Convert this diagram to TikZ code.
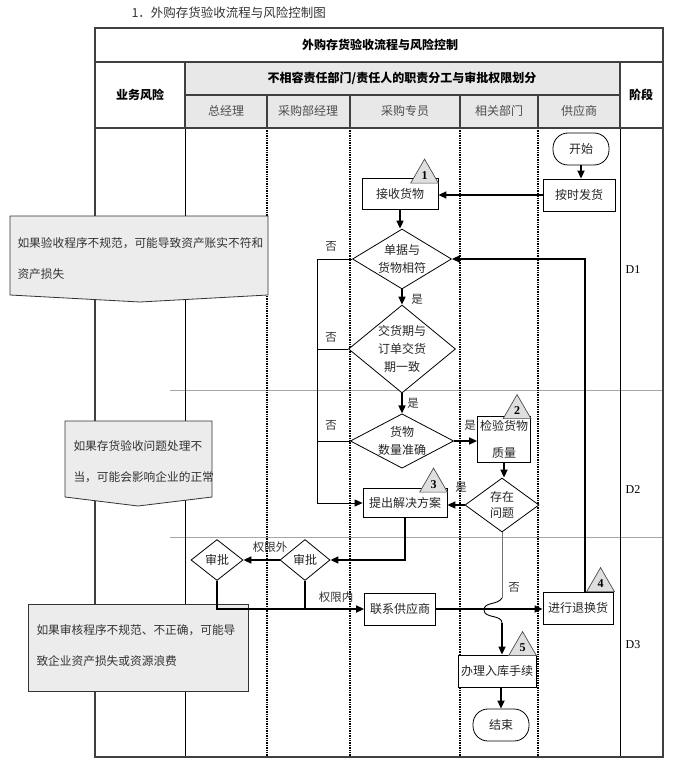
\documentclass[tikz,border=0pt]{standalone}
\usepackage{fontspec}
\setmainfont{Noto Sans CJK SC}
\newfontfamily\lat{Liberation Serif}
\usetikzlibrary{arrows.meta,shapes.geometric}
\tikzset{
  lane/.style={line width=2.6pt, dash pattern=on 1.4pt off 1pt},
  grid/.style={line width=1.3pt, draw=black!75},
  thinrule/.style={line width=0.6pt, draw=black!35},
  procbox/.style={draw, line width=0.8pt, fill=white, rectangle, minimum height=32pt, inner sep=1pt, font=\fontsize{12}{27}\selectfont, text=black!85, align=center},
  decision/.style={draw, line width=0.8pt, fill=white, diamond, inner sep=0pt, font=\fontsize{12}{18}\selectfont, text=black!85, align=center},
  terminal/.style={draw, line width=0.8pt, fill=white, rounded corners=15pt, minimum width=56pt, minimum height=32pt, font=\fontsize{12}{14}\selectfont, text=black!85},
  flag/.style={regular polygon, regular polygon sides=3, draw=black!70, line width=0.7pt, fill=gray!25, minimum size=32pt, inner sep=0pt, outer sep=0pt, font=\lat\bfseries\fontsize{12}{12}\selectfont},
  riskbox/.style={draw=black!80, line width=0.8pt, fill=gray!15},
  risktext/.style={align=left, anchor=west, text=black!80, font=\fontsize{11.7}{31}\selectfont},
  flow/.style={line width=1.6pt, -{Triangle[length=8pt,width=7pt]}},
  link/.style={line width=1.6pt},
  noline/.style={line width=1pt},
  noflow/.style={line width=1pt, -{Triangle[length=8pt,width=7pt]}},
  lbl/.style={font=\fontsize{11.5}{12}\selectfont, text=black!80},
  head/.style={font=\bfseries\fontsize{12}{14}\selectfont},
  lanehead/.style={font=\fontsize{12}{14}\selectfont, text=black!70}
}
\begin{document}
\begin{tikzpicture}[x=1pt,y=-1pt]
\useasboundingbox (0,0) rectangle (675,770);
\node[anchor=west, font=\fontsize{12.5}{14}\selectfont, text=black!80] (title) at (128,13) {1．外购存货验收流程与风险控制图};

\fill[gray!18] (185,62) rectangle (620,128);
\draw[thinrule] (170,390) -- (663,390);
\draw[thinrule] (170,537) -- (663,537);
\draw[line width=0.7pt] (185,128) -- (185,757);
\draw[line width=0.7pt] (620,128) -- (620,757);
\foreach \x in {267,350,460,538} \draw[lane] (\x,128) -- (\x,757);
\draw[grid] (95,28) rectangle (663,757);
\draw[grid] (95,62) -- (663,62);
\draw[grid] (185,62) -- (185,128);
\draw[grid] (620,62) -- (620,128);
\draw[grid] (185,95) -- (620,95);
\draw[grid] (95,128) -- (663,128);
\foreach \x in {267,350,460,538} \draw[grid] (\x,95) -- (\x,128);

\node[head] (h0) at (380,45) {外购存货验收流程与风险控制};
\node[head] (h1) at (402,78) {不相容责任部门/责任人的职责分工与审批权限划分};
\node[head] (h2) at (140,95) {业务风险};
\node[head] (h3) at (641,95) {阶段};
\node[lanehead] (l1) at (226,111) {总经理};
\node[lanehead] (l2) at (308,111) {采购部经理};
\node[lanehead] (l3) at (405,111) {采购专员};
\node[lanehead] (l4) at (499,111) {相关部门};
\node[lanehead] (l5) at (579,111) {供应商};
\node[font=\lat\fontsize{12}{12}\selectfont] (s1) at (633,270) {D1};
\node[font=\lat\fontsize{12}{12}\selectfont] (s2) at (633,490) {D2};
\node[font=\lat\fontsize{12}{12}\selectfont] (s3) at (633,645) {D3};

\filldraw[riskbox] (10,216) -- (268,216) -- (268,295) -- (140,302) -- (10,295) -- cycle;
\node[risktext] (risk1) at (14,259) {如果验收程序不规范，可能导致资产账实不符和\\资产损失};
\filldraw[riskbox] (65,421) -- (212,421) -- (212,497) -- (138,506) -- (65,497) -- cycle;
\node[risktext] (risk2) at (70,462) {如果存货验收问题处理不\\当，可能会影响企业的正常};
\filldraw[riskbox] (28,604) rectangle (248,691);
\node[risktext] (risk3) at (33,646) {如果审核程序不规范、不正确，可能导\\致企业资产损失或资源浪费};

\node[terminal] (start) at (581,149) {开始};
\node[procbox, minimum width=72pt] (ship) at (579,195) {按时发货};
\node[procbox, minimum width=76pt, minimum height=31pt] (recv) at (400,194) {接收货物};
\node[decision, aspect=1.65, minimum width=99pt, minimum height=60pt] (d1) at (402,259) {单据与\\货物相符};
\node[decision, aspect=1.22, minimum width=107pt, minimum height=88pt] (d2) at (402,349) {交货期与\\订单交货\\期一致};
\node[decision, aspect=1.9, minimum width=99pt, minimum height=52pt] (d3) at (402,441) {货物\\数量准确};
\node[procbox, minimum width=53pt, minimum height=46pt] (chk) at (504,439) {检验货物\\质量};
\node[decision, aspect=1.37, minimum width=74pt, minimum height=54pt, font=\fontsize{12}{16}\selectfont] (d4) at (502,505) {存在\\问题};
\node[procbox, minimum width=84pt, minimum height=29pt] (plan) at (405,503) {提出解决方案};
\node[decision, aspect=1.22, minimum width=50pt, minimum height=41pt] (ap2) at (305,560) {审批};
\node[decision, aspect=1.22, minimum width=52pt, minimum height=41pt] (ap1) at (217,560) {审批};
\node[procbox, minimum width=71pt] (contact) at (400,609) {联系供应商};
\node[procbox, minimum width=70pt] (ret) at (578,608) {进行退换货};
\node[procbox, minimum width=78pt] (stock) at (497,671) {办理入库手续};
\node[terminal] (finish) at (501,725) {结束};

\coordinate (loop) at (317,0);
\coordinate (hopa) at (502,598);
\coordinate (hopm) at (484,610);
\coordinate (hopb) at (502,623);
\draw[flow] (start.south) -- (start.south |- ship.north);
\draw[flow] (ship.west) -- (ship.west -| recv.east);
\draw[flow] (recv.south) -- (recv.south |- d1.north);
\draw[flow] (d1) -- (d2);
\draw[flow] (d2) -- (d3);
\draw[flow] (d3.east) -- (d3.east -| chk.west);
\draw[flow] (chk.south) -- (chk.south |- d4.north);
\draw[flow] (d4.west) -- (d4.west -| plan.east);
\draw[noline] (d2.west) -- (d2.west -| loop);
\draw[noline] (d3.west) -- (d3.west -| loop);
\draw[noflow] (d1.west) -- (d1.west -| loop) |- (plan.west);
\draw[flow] (plan.south) |- (ap2.east);
\draw[flow] (ap2.west) -- (ap1.east);
\draw[flow] (ap1.south) |- (contact.west);
\draw[link] (ap2.south) -- (ap2.south |- contact.west);
\draw[flow] (contact.east) -- (contact.east -| ret.west);
\draw[flow, line width=1.4pt] ([xshift=7pt]ret.north) |- (d1.east);
\draw[line width=0.9pt, draw=black!55] (d4.south) -- (hopa);
\draw[line width=0.9pt] (hopa) to[out=-120,in=90] (hopm) to[out=-90,in=90] (hopb);
\draw[flow] (hopb) -- (hopb |- stock.north);
\draw[flow] (stock.south -| finish.north) -- (finish.north);

\node[lbl] (no1) at (331,246) {否};
\node[lbl] (no2) at (331,337) {否};
\node[lbl] (no3) at (331,425) {否};
\node[lbl] (no4) at (514,587) {否};
\node[lbl] (yes1) at (417,299) {是};
\node[lbl] (yes2) at (413,403) {是};
\node[lbl] (yes3) at (470,425) {是};
\node[lbl] (yes4) at (461,487) {是};
\node[lbl] (outer) at (270,547) {权限外};
\node[lbl] (inner) at (336,597) {权限内};

\node[flag, anchor=corner 3] (f1) at ([yshift=-5pt]recv.north east) {1};
\node[flag, anchor=corner 3] (f2) at ([yshift=-3pt]chk.north east) {2};
\node[flag, anchor=corner 3] (f3) at ([yshift=-4pt]plan.north east) {3};
\node[flag, anchor=corner 3] (f4) at ([xshift=1pt]ret.north east) {4};
\node[flag, anchor=corner 3] (f5) at ([yshift=-1pt]stock.north east) {5};
\end{tikzpicture}
\end{document}
